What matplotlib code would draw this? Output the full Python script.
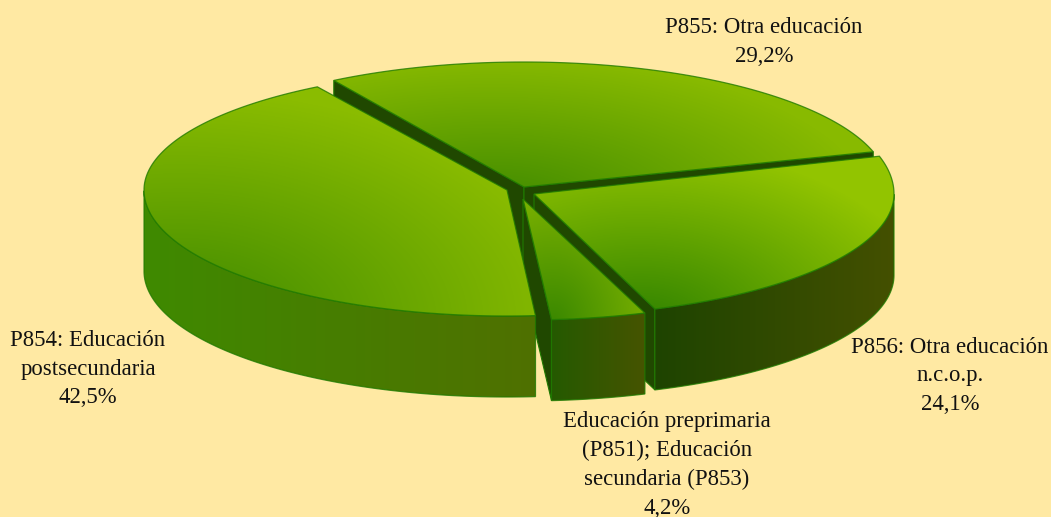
import numpy as np
import matplotlib
matplotlib.use('Agg')
import matplotlib.pyplot as plt
from matplotlib.colors import LinearSegmentedColormap
from matplotlib.patches import Polygon

# Values
categories = ['P855: Otra educación', 'P856: Otra educación\nn.c.o.p.',
              'Educación preprimaria\n(P851); Educación\nsecundaria (P853)',
              'P854: Educación\npostsecundaria']
shares = [29.2, 24.1, 4.2, 42.5]

# Layout, in image pixels
W, H = 1051, 517
BG = '#FFE9A3'
START_ANGLE = 121.5
DEPTH = 81
apexes = [(524, 187), (534, 194), (523, 199), (507, 190)]
rx = [364, 360, 363, 363]
ry_front = [125, 122, 121, 126]
ry_back = [125, 134, 121, 121]
label_pos = [(764, 42), (950, 376), (667, 465), (88, 369)]
# glow of the top face: centre, x and y reach, dark colour, light colour
top_grad = [((490, 205), (380, 150), '#3F8A00', '#88BA00'),
            ((640, 325), (300, 180), '#2F8200', '#92C400'),
            ((552, 322), (95, 120), '#3A8800', '#76AE00'),
            ((180, 320), (400, 230), '#3F8A00', '#8ABC00')]
side_grad = [('#1F4600', '#1F4600'), ('#1E4400', '#445000'),
             ('#255A00', '#465400'), ('#3F8A00', '#4F7000')]
WALL = '#204800'
EDGE = '#1F7A00'

fig = plt.figure(figsize=(W / 100, H / 100), dpi=100, facecolor=BG)
ax = fig.add_axes([0, 0, 1, 1])
ax.set_facecolor(BG)
ax.axis('off')


def rim(i, t0, t1, n=120):
    t = np.radians(np.linspace(t0, t1, n))
    s = np.sin(t)
    b = np.where(s > 0, ry_back[i], ry_front[i])
    return np.column_stack([apexes[i][0] + rx[i] * np.cos(t), apexes[i][1] - b * s])


def clip_image(val, poly, c0, c1, z):
    cmap = LinearSegmentedColormap.from_list('g', [c0, c1])
    im = ax.imshow(np.clip(val, 0, 1), cmap=cmap, vmin=0, vmax=1, extent=(0, W, H, 0),
                   aspect='auto', interpolation='bilinear', zorder=z)
    patch = Polygon(poly, closed=True, transform=ax.transData, facecolor='none', edgecolor='none')
    ax.add_patch(patch)
    im.set_clip_path(patch)
    ax.add_patch(Polygon(poly, closed=True, facecolor='none', edgecolor=EDGE, linewidth=0.9,
                         alpha=0.8, zorder=z + 0.1))


xx, yy = np.meshgrid(np.arange(W), np.arange(H))
ends = START_ANGLE - 360 * np.cumsum(shares) / np.sum(shares)
starts = np.r_[START_ANGLE, ends[:-1]]

for i in range(len(shares)):
    apex = np.array(apexes[i], float)
    t0, t1 = starts[i], ends[i]
    arc = rim(i, t0, t1)
    mid = rim(i, (t0 + t1) / 2, (t0 + t1) / 2, 1)[0]
    z = 10 * (i + 1)

    # radial cut faces, only those turned to the viewer
    for tip in (arc[0], arc[-1]):
        e = tip - apex
        nrm = np.array([-e[1], e[0]])
        if nrm @ (mid - apex) > 0:
            nrm = -nrm
        if nrm[1] > 0:
            wall = [apex, tip, tip + [0, DEPTH], apex + [0, DEPTH]]
            ax.add_patch(Polygon(wall, closed=True, facecolor=WALL, edgecolor=EDGE,
                                 linewidth=0.8, zorder=z))

    # outer side, lower half of the rim only
    lo, hi = sorted((t0, t1))
    tt = np.linspace(lo, hi, 300)
    tt = tt[np.sin(np.radians(tt)) <= 0]
    if len(tt) > 1:
        band = rim(i, tt[0], tt[-1], 200)
        side = np.vstack([band, band[::-1] + [0, DEPTH]])
        x0, x1 = side[:, 0].min(), side[:, 0].max()
        clip_image((xx - x0) / (x1 - x0), side, side_grad[i][0], side_grad[i][1], z + 1)

    top = np.vstack([apex, arc])
    (cx, cy), (sx, sy), c0, c1 = top_grad[i]
    clip_image(np.hypot((xx - cx) / sx, (yy - cy) / sy), top, c0, c1, z + 2)

for name, val, (x, y) in zip(categories, shares, label_pos):
    txt = f"{name}\n{val:.1f}%".replace('.', ',').replace('n,c,o,p,', 'n.c.o.p.')
    ax.text(x, y, txt, ha='center', va='center', fontsize=16.4, linespacing=1.47,
            family='Liberation Serif', color='#111111', zorder=100)

ax.set_xlim(0, W)
ax.set_ylim(H, 0)
fig.savefig('out.png', dpi=100, facecolor=BG)
